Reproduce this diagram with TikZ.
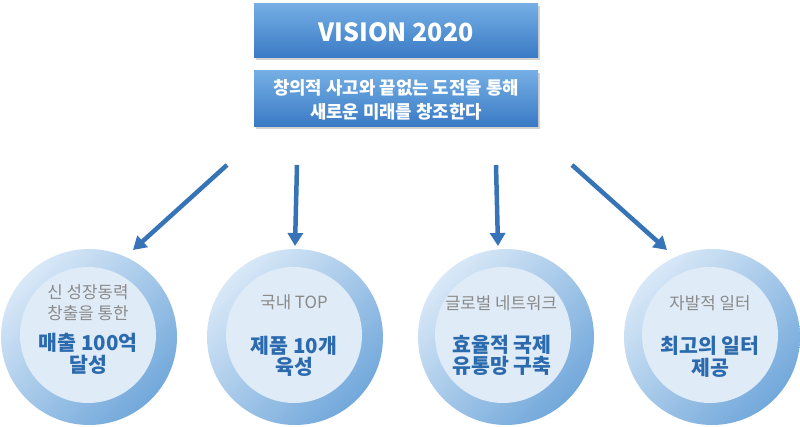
\documentclass[tikz,border=0pt]{standalone}
\usepackage{fontspec}
\setmainfont{Noto Sans CJK KR}
\usetikzlibrary{arrows.meta,shadows}
\definecolor{boxtop}{HTML}{74AEE4}
\definecolor{boxbot}{HTML}{3A7AC5}
\definecolor{ringlight}{HTML}{D8E8F7}
\definecolor{ringdark}{HTML}{72A8DB}
\definecolor{innerfill}{HTML}{DFEBF7}
\definecolor{arrowcol}{HTML}{3673B7}
\definecolor{graytext}{HTML}{8A8A8A}
\definecolor{bluetext}{HTML}{2C6AAE}
\begin{document}
\begin{tikzpicture}[x=1pt,y=-1pt,
  bluebox/.style={rectangle, minimum width=284pt, inner sep=0pt,
    top color=boxtop, bottom color=boxbot,
    drop shadow={opacity=0.35, shadow xshift=2pt, shadow yshift=-2.5pt}},
  boxtext/.style={text=white, align=center, inner sep=0pt},
  ring/.style={circle, minimum size=176pt, inner sep=0pt, shading=axis,
    top color=ringlight, bottom color=ringdark, shading angle=45},
  innerdisc/.style={circle, minimum size=136pt, inner sep=0pt, fill=innerfill},
  graylbl/.style={text=graytext, font=\fontsize{16.8}{20}\selectfont, align=center, inner sep=0pt},
  bluelbl/.style={text=bluetext, font=\fontsize{20.5}{22}\selectfont\bfseries, align=center, inner sep=0pt},
  conn/.style={draw=arrowcol, line width=4.5pt, -{Triangle[width=15pt,length=13pt]}}
]
\useasboundingbox (0,0) rectangle (800,427);

% top boxes
\node[bluebox, minimum height=54pt] (vision) at (396,31) {};
\node[boxtext, font=\fontsize{25}{30}\selectfont\bfseries] (visiontxt) at (396,32) {VISION 2020};
\node[bluebox, minimum height=56pt] (motto) at (396,99) {};
\node[boxtext, font=\fontsize{17.8}{24}\selectfont\bfseries] (mottotxt) at (396,100) {창의적 사고와 끝없는 도전을 통해\\새로운 미래를 창조한다};

% circles
\node[ring] (c1) at (89,337) {};
\node[innerdisc] (d1) at (88,335) {};
\node[ring] (c2) at (295,337) {};
\node[innerdisc] (d2) at (294,335) {};
\node[ring] (c3) at (506,337) {};
\node[innerdisc] (d3) at (503,335) {};
\node[ring] (c4) at (712,337) {};
\node[innerdisc] (d4) at (710,335) {};

% circle texts
\node[graylbl] (g1a) at (88,292) {신 성장동력};
\node[graylbl] (g1b) at (88,313) {창출을 통한};
\node[bluelbl] (b1a) at (88,343) {매출 100억};
\node[bluelbl] (b1b) at (88,365) {달성};

\node[graylbl] (g2) at (294,302) {국내 TOP};
\node[bluelbl] (b2a) at (294,346) {제품 10개};
\node[bluelbl] (b2b) at (294,367) {육성};

\node[graylbl] (g3) at (501,303) {글로벌 네트워크};
\node[bluelbl] (b3a) at (502,345) {효율적 국제};
\node[bluelbl] (b3b) at (502,366) {유통망 구축};

\node[graylbl] (g4) at (710,303) {자발적 일터};
\node[bluelbl] (b4a) at (710,346) {최고의 일터};
\node[bluelbl] (b4b) at (710,368) {제공};

% arrows
\coordinate (s1) at (227,165); \coordinate (e1) at (133,250);
\coordinate (s2) at (297,165); \coordinate (e2) at (295,246);
\coordinate (s3) at (496,165); \coordinate (e3) at (498,246);
\coordinate (s4) at (572,165); \coordinate (e4) at (667,250);
\draw[conn] (s1) -- (e1);
\draw[conn] (s2) -- (e2);
\draw[conn] (s3) -- (e3);
\draw[conn] (s4) -- (e4);
\end{tikzpicture}
\end{document}
